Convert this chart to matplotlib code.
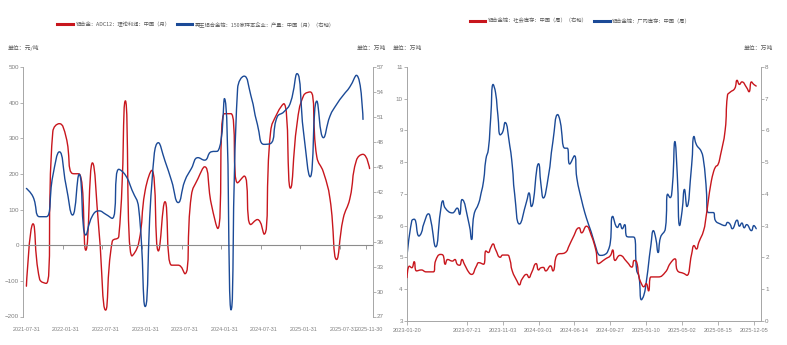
import numpy as np
import matplotlib
matplotlib.use("Agg")
import matplotlib.pyplot as plt
from matplotlib.path import Path
from matplotlib.patches import PathPatch
from matplotlib.lines import Line2D
from matplotlib import font_manager

# ---------------- data: left chart (monthly) ----------------
left_labels = ["2021-07-31", "2022-01-31", "2022-07-31", "2023-01-31", "2023-07-31",
               "2024-01-31", "2024-07-31", "2025-01-31", "2025-07-31", "2025-11-30"]
left_label_idx = [0, 6, 12, 18, 24, 30, 36, 42, 48, 52]

adc12_profit = [-115, 60, -95, -107, 318, 341, 304, 201, 200, -14,
                231, 40, -182, 10, 25, 405, -30, 5, 154, 210,
                -16, 122, -56, -56, -80, 140, 187, 220, 117, 47,
                369, 369, 175, 194, 58, 72, 31, 318, 370, 397,
                160, 340, 420, 430, 248, 205, 130, -40, 75, 130,
                238, 255, 215]

recycled_output = [42.4, 41.4, 39.0, 39.0, 43.9, 46.8, 42.8, 39.2, 44.1, 36.8,
                   39.1, 39.7, 39.3, 38.8, 44.7, 44.0, 42.2, 40.1, 28.2, 42.9,
                   47.9, 45.7, 43.3, 40.7, 43.3, 44.8, 46.1, 45.8, 46.8, 46.9,
                   53.2, 27.8, 54.4, 55.9, 53.6, 50.1, 47.7, 47.8, 51.0, 51.6,
                   52.7, 56.2, 49.1, 43.8, 52.9, 48.5, 51.1, 52.5, 53.6, 54.6,
                   56.0, 50.7]

# ---------------- data: right chart (weekly) ----------------
right_labels = ["2023-01-20", "2023-07-21", "2023-11-03", "2024-03-01", "2024-06-14",
                "2024-09-27", "2025-01-10", "2025-05-02", "2025-08-15", "2025-12-05"]
right_label_idx = [0, 25, 40, 55, 70, 85, 100, 115, 130, 145]

factory_week = [0, 2, 3, 5, 6, 7, 9, 10, 12, 14, 15, 16, 19, 21, 22, 23, 26, 27, 28, 30,
                31, 32, 33, 34, 35, 36, 37, 38, 39, 40, 41, 43, 44, 45, 47, 50, 51, 52, 55, 56,
                57, 59, 61, 63, 64, 66, 67, 68, 70, 71, 73, 75, 77, 79, 80, 81, 83, 84, 85, 86,
                88, 89, 90, 91, 92, 95, 96, 97, 98, 99, 100, 102, 103, 104, 105, 106, 108, 109, 110, 111,
                112, 113, 114, 115, 116, 117, 119, 120, 121, 123, 124, 125, 126, 128, 129, 131, 133, 134, 135, 136,
                138, 139, 140, 141, 142, 144, 145, 146]
factory_stock = [5.04, 6.15, 6.2, 5.67, 5.77, 6.05, 6.37, 6.14, 5.33, 6.45, 6.78, 6.55, 6.4, 6.55, 6.35, 6.82, 6.03, 5.56, 6.34, 6.71,
                 7.03, 7.4, 8.1, 8.4, 9.4, 10.45, 10.2, 9.48, 8.86, 8.95, 9.25, 8.5, 7.9, 7.0, 6.05, 6.76, 7.03, 6.6, 7.95, 7.3,
                 6.87, 7.5, 8.65, 9.5, 9.3, 8.44, 8.44, 7.94, 8.2, 7.5, 6.8, 6.24, 5.8, 5.3, 5.1, 5.06, 5.1, 5.2, 5.47, 6.29,
                 5.94, 6.06, 5.9, 6.03, 5.65, 5.63, 4.6, 4.38, 3.66, 3.8, 4.2, 5.4, 5.84, 5.6, 5.15, 5.63, 5.9, 6.99, 6.88, 7.3,
                 8.65, 7.6, 6.0, 6.46, 7.14, 6.6, 7.9, 8.81, 8.55, 8.34, 8.03, 7.3, 6.41, 6.41, 6.15, 6.05, 6.0, 6.1, 6.05, 5.9,
                 6.17, 5.98, 6.08, 5.93, 6.03, 5.84, 6.0, 5.9]

social_week = [0, 1, 2, 3, 4, 6, 8, 11, 12, 14, 15, 16, 17, 19, 20, 21, 22, 23, 24, 26,
               27, 29, 30, 32, 33, 34, 35, 36, 37, 39, 40, 42, 43, 44, 46, 47, 48, 50, 51, 52,
               54, 55, 56, 57, 58, 60, 61, 63, 66, 68, 69, 72, 73, 75, 77, 79, 80, 83, 85, 86,
               87, 89, 92, 94, 95, 96, 97, 98, 99, 100, 101, 102, 105, 108, 110, 112, 113, 116, 117, 119,
               120, 121, 122, 124, 125, 126, 127, 128, 129, 130, 131, 133, 134, 135, 137, 138, 139, 140, 142, 143,
               144, 145, 146]
social_stock = [1.36, 1.72, 1.67, 1.86, 1.57, 1.6, 1.54, 1.54, 1.9, 2.09, 2.07, 1.78, 1.93, 1.88, 1.93, 1.78, 1.75, 1.93, 1.78, 1.51,
                1.46, 1.72, 1.83, 1.78, 2.2, 2.15, 2.3, 2.42, 2.25, 2.0, 2.07, 2.07, 1.93, 1.57, 1.25, 1.13, 1.3, 1.46, 1.36, 1.5,
                1.8, 1.6, 1.67, 1.68, 1.57, 1.73, 1.57, 2.09, 2.14, 2.4, 2.56, 2.93, 2.77, 2.98, 2.7, 2.21, 1.8, 1.95, 2.05, 2.23,
                1.9, 2.06, 1.85, 1.69, 1.9, 1.85, 1.38, 1.17, 1.07, 1.17, 0.94, 1.38, 1.38, 1.53, 1.8, 1.95, 1.59, 1.48, 1.43, 2.1,
                2.37, 2.26, 2.47, 2.84, 3.26, 3.8, 4.3, 4.65, 4.85, 4.92, 5.2, 6.0, 7.11, 7.2, 7.32, 7.58, 7.45, 7.53, 7.35, 7.22,
                7.53, 7.45, 7.4]

# ---------------- styling ----------------
RED = "#C8161D"
BLUE = "#1B4A97"
AX_COL = "#A6A6A6"
TXT = "#7F7F7F"
LEG_TXT = "#595959"

names = {f.name for f in font_manager.fontManager.ttflist}
NUM_FONT = "Liberation Sans Narrow" if "Liberation Sans Narrow" in names else "Liberation Sans"
CJK = ["Noto Sans CJK SC", "DejaVu Sans"]
plt.rcParams["font.family"] = [NUM_FONT, "Noto Sans CJK SC", "DejaVu Sans"]


def _clamp(v, a, b):
    lo, hi = min(a, b), max(a, b)
    return min(max(v, lo), hi)


def smooth_path(xs, ys, sx, sy, smooth=0.5):
    """Constrained smooth bezier through the data points (computed in pixel-like units)."""
    P = np.column_stack([np.asarray(xs, float) * sx, np.asarray(ys, float) * sy])
    n = len(P)
    cin = P.copy()
    cout = P.copy()
    for i in range(1, n - 1):
        x, y = P[i]
        px, py = P[i - 1]
        nx, ny = P[i + 1]
        vx, vy = nx - px, ny - py
        d0 = np.hypot(x - px, y - py)
        d1 = np.hypot(nx - x, ny - y)
        if d0 == 0 or d1 == 0:
            continue
        r = d1 / (d0 + d1)
        ox = _clamp(x + vx * smooth * r, x, nx)
        oy = _clamp(y + vy * smooth * r, y, ny)
        vx, vy = ox - x, oy - y
        ix = _clamp(x - vx * d0 / d1, px, x)
        iy = _clamp(y - vy * d0 / d1, py, y)
        vx, vy = x - ix, y - iy
        ox = x + vx * d1 / d0
        oy = y + vy * d1 / d0
        cin[i] = (ix, iy)
        cout[i] = (ox, oy)
    verts = [P[0]]
    codes = [Path.MOVETO]
    for i in range(n - 1):
        verts += [cout[i], cin[i + 1], P[i + 1]]
        codes += [Path.CURVE4] * 3
    verts = np.array(verts)
    verts[:, 0] /= sx
    verts[:, 1] /= sy
    return Path(verts, codes)


def add_line(ax, xs, ys, color, sx, sy, lw=1.0):
    patch = PathPatch(smooth_path(xs, ys, sx, sy), facecolor="none", edgecolor=color,
                      lw=lw, capstyle="round", joinstyle="round")
    ax.add_patch(patch)


fig = plt.figure(figsize=(7.87, 3.45), dpi=100)
W, H = 787.0, 345.0

# ---------------- left chart ----------------
L_W, L_H = 349.8, 249.5
ax1 = fig.add_axes([23.1 / W, (H - 316.5) / H, L_W / W, L_H / H])
ax1r = ax1.twinx()
ax1.set_xlim(-0.5, 52.5)
ax1.set_ylim(-200, 500)
ax1r.set_ylim(27, 57)
ax1.set_yticks(range(-200, 501, 100))
ax1r.set_yticks(range(27, 58, 3))

k_red = np.arange(len(adc12_profit))
k_blue = np.arange(len(recycled_output))
sx1 = L_W / 53.0
add_line(ax1, k_red, adc12_profit, RED, sx1, L_H / 700.0, lw=1.0)
add_line(ax1r, k_blue, recycled_output, BLUE, sx1, L_H / 30.0, lw=1.0)

for a in (ax1, ax1r):
    a.spines["top"].set_visible(False)
ax1.spines["right"].set_visible(False)
ax1r.spines["left"].set_visible(False)
ax1r.spines["bottom"].set_visible(False)
ax1.spines["bottom"].set_position(("data", 0))
ax1.spines["bottom"].set_color("#8C8C8C")
ax1.spines["bottom"].set_linewidth(0.8)
ax1.spines["left"].set_color(AX_COL)
ax1r.spines["right"].set_color(AX_COL)
ax1.spines["left"].set_linewidth(0.7)
ax1r.spines["right"].set_linewidth(0.7)

ax1.set_xticks([k - 0.5 for k in left_label_idx[1:]])
ax1.tick_params(axis="x", labelbottom=False, direction="out", length=3, width=0.6, colors="#8C8C8C")
ax1.tick_params(axis="y", direction="out", length=2, width=0.6, colors=AX_COL, labelcolor=TXT, labelsize=4.5, pad=1)
ax1r.tick_params(axis="y", direction="out", length=2, width=0.6, colors=AX_COL, labelcolor=TXT, labelsize=4.5, pad=1)
for k, lab in zip(left_label_idx, left_labels):
    ax1.text(k, -0.054, lab, transform=ax1.get_xaxis_transform(), ha="center", va="center",
             fontsize=3.9, color=TXT)

fig.text(8 / W, 1 - 48 / H, "单位：元/吨", family=CJK, fontsize=4.2, color=LEG_TXT, va="center", ha="left")
fig.text(386 / W, 1 - 48 / H, "单位：万吨", family=CJK, fontsize=4.2, color=LEG_TXT, va="center", ha="right")

h1 = [Line2D([], [], color=RED, lw=2.2), Line2D([], [], color=BLUE, lw=2.2)]
fig.legend(h1, ["铝合金：ADC12：理论利润：中国（月）", "再生铝合金锭：150家样本企业：产量：中国（月）（右轴）"],
           loc="center", bbox_to_anchor=(196 / W, 1 - 24 / H), ncol=2, frameon=False,
           prop={"family": CJK, "size": 3.8}, handlelength=3.0, handletextpad=0.4,
           columnspacing=1.2, labelcolor=LEG_TXT)

# ---------------- right chart ----------------
R_W, R_H = 354.0, 253.7
ax2 = fig.add_axes([407 / W, (H - 320.7) / H, R_W / W, R_H / H])
ax2r = ax2.twinx()
ax2.set_xlim(0, 148)
ax2.set_ylim(3, 11)
ax2r.set_ylim(0, 8)
ax2.set_yticks(range(3, 12))
ax2r.set_yticks(range(0, 9))

sx2 = R_W / 148.0
add_line(ax2, factory_week, factory_stock, BLUE, sx2, R_H / 8.0, lw=1.0)
add_line(ax2r, social_week, social_stock, RED, sx2, R_H / 8.0, lw=1.0)

for a in (ax2, ax2r):
    a.spines["top"].set_visible(False)
ax2.spines["right"].set_visible(False)
ax2r.spines["left"].set_visible(False)
ax2r.spines["bottom"].set_visible(False)
for s in ("left", "bottom"):
    ax2.spines[s].set_color(AX_COL)
    ax2.spines[s].set_linewidth(0.7)
ax2r.spines["right"].set_color(AX_COL)
ax2r.spines["right"].set_linewidth(0.7)

ax2.set_xticks(right_label_idx)
ax2.set_xticklabels(right_labels)
ax2.tick_params(axis="x", direction="out", length=3, width=0.6, colors=AX_COL, labelcolor=TXT, labelsize=4.1, pad=2)
ax2.tick_params(axis="y", direction="out", length=2, width=0.6, colors=AX_COL, labelcolor=TXT, labelsize=4.5, pad=1)
ax2r.tick_params(axis="y", direction="out", length=2, width=0.6, colors=AX_COL, labelcolor=TXT, labelsize=4.5, pad=1)

fig.text(393 / W, 1 - 48 / H, "单位：万吨", family=CJK, fontsize=4.2, color=LEG_TXT, va="center", ha="left")
fig.text(773 / W, 1 - 48 / H, "单位：万吨", family=CJK, fontsize=4.2, color=LEG_TXT, va="center", ha="right")

h2 = [Line2D([], [], color=RED, lw=2.2), Line2D([], [], color=BLUE, lw=2.2)]
fig.legend(h2, ["铝合金锭：社会库存：中国（周）（右轴）", "铝合金锭：厂内库存：中国（周）"],
           loc="center", bbox_to_anchor=(580 / W, 1 - 21 / H), ncol=2, frameon=False,
           prop={"family": CJK, "size": 3.8}, handlelength=3.0, handletextpad=0.4,
           columnspacing=1.2, labelcolor=LEG_TXT)

fig.savefig("out.png", dpi=100)
